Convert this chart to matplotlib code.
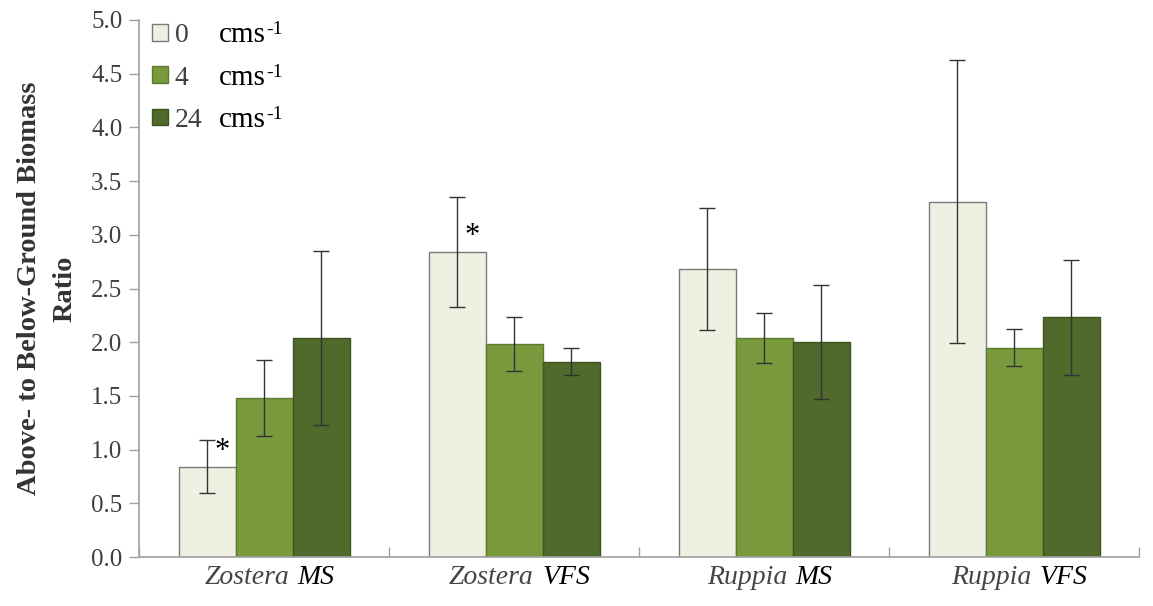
import numpy as np
import matplotlib
matplotlib.use("Agg")
import matplotlib.pyplot as plt
from matplotlib.patches import Patch
from matplotlib.offsetbox import TextArea, HPacker, AnnotationBbox

plt.rcParams['font.family'] = ['Liberation Serif', 'DejaVu Serif']

species = ['Zostera', 'Zostera', 'Ruppia', 'Ruppia']
sediment = ['MS', 'VFS', 'MS', 'VFS']
flows = ['0', '4', '24']

ratio_0 = [0.84, 2.84, 2.68, 3.31]
ratio_4 = [1.48, 1.98, 2.04, 1.95]
ratio_24 = [2.04, 1.82, 2.00, 2.23]
err_0 = [0.245, 0.51, 0.565, 1.32]
err_4 = [0.35, 0.25, 0.235, 0.175]
err_24 = [0.81, 0.125, 0.53, 0.535]

# groups with a significant 0 cm/s difference, and where the asterisk sits
starred = [0, 1]
star_y = [0.98, 2.98]

colors = ['#eef1e2', '#789a3c', '#4f6a2a']
edges = ['#7a7a7a', '#5e7a2e', '#3e5520']

fig = plt.figure(figsize=(11.53, 6.06), dpi=100)
ax = fig.add_axes([139 / 1153, 49 / 606, 1000 / 1153, 537 / 606])

x = np.arange(len(species))
w = 0.228
series = [ratio_0, ratio_4, ratio_24]
errors = [err_0, err_4, err_24]
for i, (vals, errs) in enumerate(zip(series, errors)):
    pos = x + (i - 1) * w
    ax.bar(pos, vals, w, color=colors[i], edgecolor=edges[i], linewidth=1.0, zorder=2)
    ax.errorbar(pos, vals, yerr=errs, fmt='none', ecolor='#333333',
                elinewidth=1.0, capsize=6, capthick=1.0, zorder=3)

for k, sy in zip(starred, star_y):
    ax.text(x[k] - w + 0.062, sy, '*', fontsize=22,
            ha='center', va='center', color='black', zorder=4)

ax.set_xlim(-0.5, 3.5)
ax.set_ylim(0, 5.0)
yt = np.arange(0, 5.01, 0.5)
ax.set_yticks(yt)
ax.set_yticklabels([f'{v:.1f}' for v in yt])
ax.set_xticks(np.arange(-0.5, 3.6, 1.0))
ax.set_xticklabels([])
ax.tick_params(axis='y', length=7, width=1, color='#a0a0a0', labelsize=18,
               labelcolor='#404040', pad=5)
ax.tick_params(axis='x', length=7, width=1, color='#a0a0a0', direction='in')
for s in ['top', 'right']:
    ax.spines[s].set_visible(False)
for s in ['left', 'bottom']:
    ax.spines[s].set_color('#a0a0a0')
    ax.spines[s].set_linewidth(1.2)

ax.set_ylabel('Above- to Below-Ground Biomass\nRatio', fontsize=20.5,
              fontweight='bold', color='#333333', labelpad=10, linespacing=1.55)

# category labels: genus in grey italic, sediment type in black italic
for k in range(len(species)):
    box = HPacker(children=[
        TextArea(species[k], textprops=dict(fontsize=20, style='italic', color='#454545')),
        TextArea(sediment[k], textprops=dict(fontsize=20, style='italic', color='black')),
    ], align='baseline', pad=0, sep=6)
    ab = AnnotationBbox(box, (x[k], 0), xycoords=('data', 'axes fraction'),
                        xybox=(4, -6), boxcoords='offset points',
                        box_alignment=(0.5, 1), frameon=False)
    ax.add_artist(ab)

handles = [Patch(facecolor=colors[i], edgecolor=edges[i]) for i in range(3)]
leg = ax.legend(handles, flows, loc='upper left', bbox_to_anchor=(-0.006, 1.03),
                frameon=False, fontsize=20, handlelength=0.55, handleheight=0.55,
                handletextpad=0.25, labelspacing=0.62, borderaxespad=0.3)
for t in leg.get_texts():
    t.set_color('#404040')

# unit text next to each legend entry, placed once the legend is laid out
fig.canvas.draw()
inv = ax.transAxes.inverted()
for t in leg.get_texts():
    bb = t.get_window_extent()
    x0, y0 = inv.transform((bb.x0 + 44, bb.y0))
    unit = ax.text(x0, y0, 'cms', transform=ax.transAxes, ha='left', va='bottom',
                   fontsize=21, color='black')
    ub = unit.get_window_extent(renderer=fig.canvas.get_renderer())
    x1, y1 = inv.transform((ub.x1 + 0.5, ub.y1 + 1))
    ax.text(x1, y1, '-1', transform=ax.transAxes, ha='left', va='top',
            fontsize=14, color='black')

fig.savefig('out.png', dpi=100)
